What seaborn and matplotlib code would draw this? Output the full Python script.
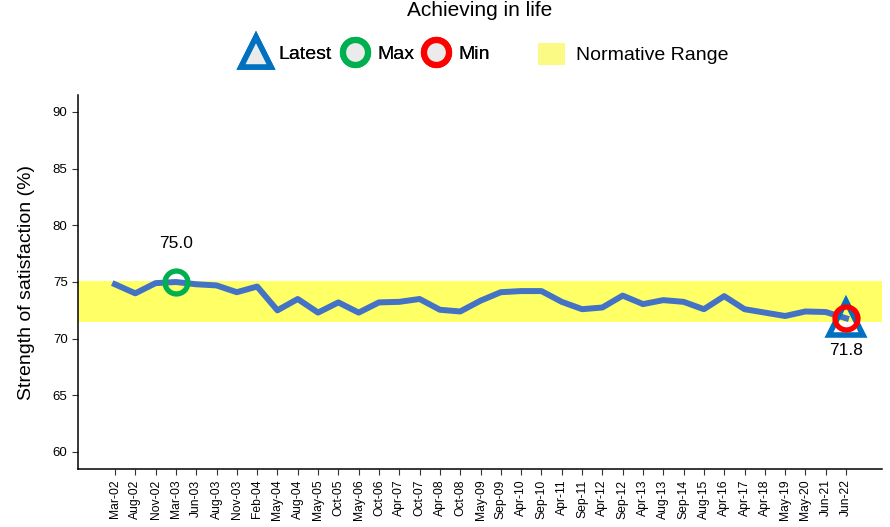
import pandas as pd
import matplotlib.pyplot as plt
import seaborn as sns
from matplotlib.lines import Line2D
from matplotlib.patches import Patch

# Survey waves and the satisfaction values
waves = ['Mar-02', 'Aug-02', 'Nov-02', 'Mar-03', 'Jun-03', 'Aug-03', 'Nov-03', 'Feb-04',
         'May-04', 'Aug-04', 'May-05', 'Oct-05', 'May-06', 'Oct-06', 'Apr-07', 'Oct-07',
         'Apr-08', 'Oct-08', 'May-09', 'Sep-09', 'Apr-10', 'Sep-10', 'Apr-11', 'Sep-11',
         'Apr-12', 'Sep-12', 'Apr-13', 'Aug-13', 'Sep-14', 'Aug-15', 'Apr-16', 'Apr-17',
         'Apr-18', 'May-19', 'May-20', 'Jun-21', 'Jun-22']
satisfaction = [74.8, 74.0, 74.9, 75.0, 74.8, 74.7, 74.1, 74.6,
                72.5, 73.5, 72.3, 73.2, 72.3, 73.2, 73.25, 73.5,
                72.55, 72.4, 73.35, 74.1, 74.2, 74.2, 73.25, 72.6,
                72.75, 73.8, 73.05, 73.4, 73.25, 72.6, 73.75, 72.6,
                72.3, 72.0, 72.4, 72.35, 71.8]
normative_low = 71.5
normative_high = 75.1
y_ticks = [60, 65, 70, 75, 80, 85, 90]

plt.rcParams['font.family'] = ['Liberation Sans', 'DejaVu Sans']

df = pd.DataFrame({'wave': waves, 'value': satisfaction})
i_max = df['value'].idxmax()
i_min = df['value'].idxmin()
i_last = len(df) - 1

W, H = 890, 527
fig, ax = plt.subplots(figsize=(W / 100, H / 100), dpi=100)
fig.subplots_adjust(left=78 / W, right=882 / W, top=1 - 95 / H, bottom=1 - 469 / H)

ax.axhspan(normative_low, normative_high, color='#FFFF66', zorder=0, lw=0)
sns.lineplot(data=df, x='wave', y='value', color='#4472C4', linewidth=4.3,
             sort=False, ax=ax, zorder=2)

# latest / max / min markers
ax.plot(i_last, df['value'][i_last], marker='^', ms=24, mfc='none', mec='#0070C0',
        mew=4, ls='none', zorder=3)
ax.plot(i_max, df['value'][i_max], marker='o', ms=16.5, mfc='none', mec='#00B050',
        mew=3.8, ls='none', zorder=4)
ax.plot(i_min, df['value'][i_min], marker='o', ms=16.5, mfc='none', mec='#FF0000',
        mew=3.8, ls='none', zorder=4)
ax.annotate(f"{df['value'][i_max]:.1f}", (i_max, df['value'][i_max]), xytext=(0, 28),
            textcoords='offset points', ha='center', va='center', fontsize=12.5)
ax.annotate(f"{df['value'][i_min]:.1f}", (i_min, df['value'][i_min]), xytext=(0, -23),
            textcoords='offset points', ha='center', va='center', fontsize=12.5)

ax.set_xlim(-1.82, len(df) + 0.77)
ax.set_ylim(58.5, 91.5)
ax.set_yticks(y_ticks)
ax.set_xlabel('')
ax.set_ylabel('Strength of satisfaction (%)', fontsize=14, labelpad=13)
ax.tick_params(axis='x', labelrotation=90, labelsize=8.7, length=4, color='#333333')
ax.tick_params(axis='y', labelsize=9.5, length=4, color='#333333')
for s in ['top', 'right']:
    ax.spines[s].set_visible(False)
for s in ['left', 'bottom']:
    ax.spines[s].set_linewidth(1.1)

fig.text(480 / W, 1 - 10 / H, 'Achieving in life', ha='center', va='center', fontsize=15)

marker_handles = [
    Line2D([], [], marker='^', ms=22, mfc='#EBEBEB', mec='#0070C0', mew=4, ls='none'),
    Line2D([], [], marker='o', ms=18, mfc='#EBEBEB', mec='#00B050', mew=4.5, ls='none'),
    Line2D([], [], marker='o', ms=18, mfc='#EBEBEB', mec='#FF0000', mew=4.5, ls='none'),
]
leg1 = fig.legend(marker_handles, ['Latest', 'Max', 'Min'], loc='center left',
                  bbox_to_anchor=(236 / W, 1 - 54 / H), ncol=3, frameon=False, fontsize=14,
                  handlelength=2.1, handletextpad=0.1, columnspacing=0.1,
                  borderpad=0, borderaxespad=0)
fig.add_artist(leg1)
fig.legend([Patch(facecolor='#FAFA85', edgecolor='none')], ['Normative Range'],
           loc='center left', bbox_to_anchor=(538 / W, 1 - 54 / H), frameon=False,
           fontsize=14, handlelength=1.4, handleheight=1.4, handletextpad=0.55,
           borderpad=0, borderaxespad=0)

fig.savefig('out.png', dpi=100)
